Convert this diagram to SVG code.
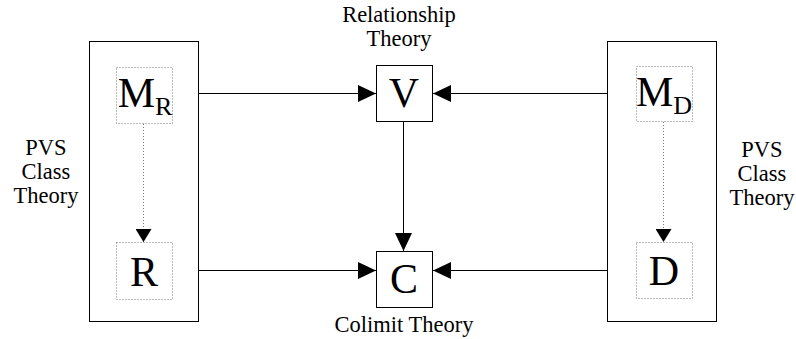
<svg xmlns="http://www.w3.org/2000/svg" width="796" height="339" viewBox="0 0 796 339">
<defs>
<style>
.frame{fill:#fff;stroke:#000;stroke-width:1}
.dot{fill:none;stroke:#777;stroke-width:1;stroke-dasharray:1 2}
.box{fill:#fff;stroke:#000;stroke-width:1}
text{font-family:'Liberation Serif','Times New Roman',serif;fill:#000}
.lbl{font-size:22.5px;text-anchor:middle}
.big{font-size:42px;text-anchor:middle}
.sub{font-size:26px}
.edge{stroke:#000;stroke-width:1;fill:none}
.dedge{stroke:#777;stroke-width:1;stroke-dasharray:1 2;fill:none}
</style>
<marker id="ah" viewBox="0 0 18 17" refX="18" refY="8.5" markerWidth="18" markerHeight="17" markerUnits="userSpaceOnUse" orient="auto">
<path d="M0,0 L18,8.5 L0,17 Z" fill="#000"/>
</marker>
<marker id="ahs" viewBox="0 0 13 16" refX="13" refY="8" markerWidth="13" markerHeight="16" markerUnits="userSpaceOnUse" orient="auto">
<path d="M0,0 L13,8 L0,16 Z" fill="#000"/>
</marker>
</defs>
<rect width="796" height="339" fill="#fff"/>
<g id="left-class">
<rect class="frame" x="89.5" y="41.5" width="109" height="280"/>
<text class="lbl" x="46" y="155">PVS<tspan x="46" dy="24">Class</tspan><tspan x="46" dy="24">Theory</tspan></text>
</g>
<g id="right-class">
<rect class="frame" x="607.5" y="41.5" width="109" height="280"/>
<text class="lbl" x="762" y="157">PVS<tspan x="762" dy="24">Class</tspan><tspan x="762" dy="24">Theory</tspan></text>
</g>
<g id="MR">
<rect class="dot" x="116.5" y="67.5" width="56" height="56"/>
<text class="big" x="145" y="107">M<tspan class="sub" dy="8">R</tspan></text>
</g>
<g id="R">
<rect class="dot" x="116.5" y="242.5" width="56" height="57"/>
<text class="big" x="144" y="286">R</text>
</g>
<g id="MD">
<rect class="dot" x="636.5" y="66.5" width="56" height="55"/>
<text class="big" x="664" y="106">M<tspan class="sub" dy="8">D</tspan></text>
</g>
<g id="D">
<rect class="dot" x="636.5" y="242.5" width="56" height="56"/>
<text class="big" x="664" y="285">D</text>
</g>
<g id="V">
<rect class="box" x="376.5" y="65.5" width="56" height="56"/>
<text class="big" x="404" y="107">V</text>
<text class="lbl" x="399" y="22">Relationship<tspan x="399" dy="24">Theory</tspan></text>
</g>
<g id="C">
<rect class="box" x="376.5" y="251.5" width="56" height="56"/>
<text class="big" x="404" y="293">C</text>
<text class="lbl" x="404" y="332">Colimit Theory</text>
</g>
<g id="connectors">
<line class="edge" x1="198.5" y1="93.5" x2="376" y2="93.5" marker-end="url(#ah)"/>
<line class="edge" x1="198.5" y1="270.5" x2="376" y2="270.5" marker-end="url(#ah)"/>
<line class="edge" x1="607.5" y1="93.5" x2="433" y2="93.5" marker-end="url(#ah)"/>
<line class="edge" x1="607.5" y1="270.5" x2="433" y2="270.5" marker-end="url(#ah)"/>
<line class="edge" x1="403.5" y1="122" x2="403.5" y2="251" marker-end="url(#ah)"/>
<line class="dedge" x1="143.5" y1="124" x2="143.5" y2="242" marker-end="url(#ahs)"/>
<line class="dedge" x1="663.5" y1="122" x2="663.5" y2="242" marker-end="url(#ahs)"/>
</g>
</svg>
